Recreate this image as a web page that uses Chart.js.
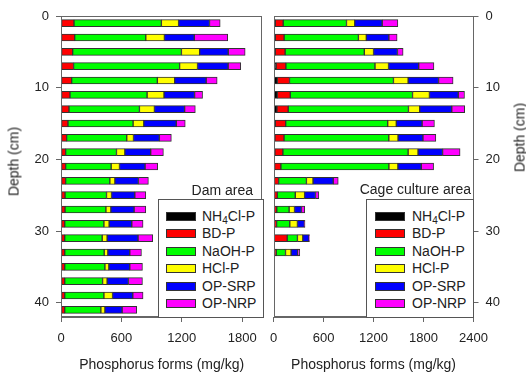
<!DOCTYPE html>
<html>
<head>
<meta charset="utf-8">
<script src="https://cdn.jsdelivr.net/npm/chart.js@4/dist/chart.umd.min.js"></script>
<style>
  body { margin: 0; width: 526px; height: 374px; background: #fff; position: relative; overflow: hidden;
         font-family: Arial, "Liberation Sans", sans-serif; color: #222; }
  canvas { position: absolute; top: 0; }
  .legend { position: absolute; background: #fff; border: 1px solid #555; box-sizing: border-box; }
  .row { position: absolute; left: 0; height: 17px; font-size: 14px; line-height: 17px; white-space: nowrap; }
  .sw { position: absolute; width: 30px; height: 9px; top: 4px; border: 1px solid #333; box-sizing: border-box; }
  .row .t { position: absolute; }
  .row sub { font-size: 10px; vertical-align: -3px; line-height: 0; }
  .area { position: absolute; font-size: 14px; line-height: 17px; white-space: nowrap; text-align: right; }
  .ylab { position: absolute; width: 100px; height: 17px; line-height: 17px; font-size: 14px;
          text-align: center; transform: rotate(-90deg); white-space: nowrap; }
</style>
</head>
<body>
<canvas id="damChart" width="266" height="374" style="left:0"></canvas>
<canvas id="cageChart" width="265" height="374" style="left:261px"></canvas>

<div class="ylab" style="left:-36px; top:153px">Depth (cm)</div>
<div class="ylab" style="left:470px; top:129px">Depth (cm)</div>

<div class="area" style="right:273px; top:182px">Dam area</div>
<div class="area" style="right:55px; top:181px">Cage culture area</div>

<div class="legend" id="damLegend" style="left:158px; top:199px; width:106px; height:119px"></div>
<div class="legend" id="cageLegend" style="left:366px; top:199px; width:108px; height:119px"></div>

<script>
// --- Data ---
const seriesNames = ['NH<sub>4</sub>Cl-P', 'BD-P', 'NaOH-P', 'HCl-P', 'OP-SRP', 'OP-NRP'];
const seriesColors = ['#000000', '#ff0000', '#00ff00', '#ffff00', '#0000ff', '#ff00ff'];

// Dam area, depth in cm (mg/kg)
const damDepth = [1, 3, 5, 7, 9, 11, 13, 15, 17, 19, 21, 23, 25, 27, 29, 31, 33, 35, 37, 39, 41];
const damNH4 = [6, 6, 6, 6, 6, 6, 6, 6, 6, 6, 6, 6, 6, 6, 6, 6, 6, 6, 6, 6, 6];
const damBD = [123, 130, 110, 119, 100, 83, 73, 63, 50, 40, 40, 40, 34, 34, 31, 31, 31, 31, 31, 31, 31];
const damNaOH = [868, 706, 1080, 1053, 851, 766, 700, 647, 597, 505, 452, 439, 412, 406, 389, 372, 392, 399, 376, 389, 359];
const damHCl = [171, 185, 181, 178, 172, 168, 149, 106, 67, 83, 83, 50, 50, 49, 52, 49, 36, 39, 45, 86, 40];
const damSRP = [307, 297, 284, 304, 313, 304, 300, 323, 257, 257, 254, 234, 231, 231, 225, 307, 218, 208, 212, 201, 171];
const damNRP = [106, 332, 168, 125, 109, 79, 106, 89, 119, 126, 125, 99, 109, 116, 112, 146, 116, 126, 139, 102, 145];

// Cage culture area
const cageDepth = [1, 3, 5, 7, 9, 11, 13, 15, 17, 19, 21, 23, 25, 27, 29, 31, 33];
const cageNH4 = [20, 20, 20, 30, 45, 45, 40, 20, 15, 15, 12, 10, 10, 10, 10, 8, 19];
const cageBD = [95, 106, 118, 117, 146, 155, 135, 125, 110, 96, 75, 50, 35, 28, 26, 155, 12];
const cageNaOH = [760, 892, 951, 1070, 1248, 1468, 1444, 1225, 1258, 1504, 1297, 334, 215, 148, 158, 123, 112];
const cageHCl = [99, 95, 111, 163, 176, 203, 135, 103, 111, 119, 108, 79, 112, 65, 92, 64, 67];
const cageSRP = [330, 271, 287, 362, 366, 346, 385, 310, 299, 295, 281, 243, 131, 83, 84, 75, 80];
const cageNRP = [188, 99, 68, 183, 174, 75, 155, 148, 155, 210, 148, 60, 40, 40, 7, 5, 24];

const depthTicks = [0, 10, 20, 30, 40];
const damTicks = [0, 600, 1200, 1800];
const cageTicks = [0, 600, 1200, 1800, 2400];
const FONT = 'Arial, "Liberation Sans", sans-serif';
const AXIS = '#666';

// draws the box round the plot area
const framePlugin = {
    id: 'frame',
    afterDraw(chart) {
        const a = chart.chartArea;
        const ctx = chart.ctx;
        ctx.save();
        ctx.strokeStyle = AXIS;
        ctx.lineWidth = 1;
        ctx.strokeRect(Math.round(a.left) + 0.5, Math.round(a.top) + 0.5,
            Math.round(a.right - a.left) - 1, Math.round(a.bottom - a.top) - 1);
        ctx.restore();
    }
};

function makeDatasets(depths, cols) {
    return cols.map((vals, i) => ({
        label: seriesNames[i],
        data: vals.map((v, j) => ({ x: v, y: depths[j] })),
        backgroundColor: seriesColors[i],
        borderColor: '#333',
        borderWidth: 1,
        borderSkipped: false,
        barThickness: 7,
        grouped: false
    }));
}

function makeChart(id, depths, cols, xMax, xTicks, yPos, padding, yWidth) {
    return new Chart(document.getElementById(id), {
        type: 'bar',
        data: { datasets: makeDatasets(depths, cols) },
        options: {
            indexAxis: 'y',
            responsive: false,
            animation: false,
            devicePixelRatio: 1,
            layout: { padding: padding },
            plugins: { legend: { display: false }, tooltip: { enabled: false } },
            scales: {
                x: {
                    type: 'linear',
                    stacked: true,
                    min: 0,
                    max: xMax,
                    grid: { display: true, drawOnChartArea: false, drawTicks: true, tickLength: 5, color: AXIS },
                    border: { display: true, color: AXIS },
                    afterBuildTicks: s => { s.ticks = xTicks.map(v => ({ value: v })); },
                    ticks: { padding: 9, color: '#222', font: { family: FONT, size: 13 }, callback: v => String(v) },
                    title: { display: true, text: 'Phosphorus forms (mg/kg)', color: '#222', padding: 0, font: { family: FONT, size: 14 } },
                    afterFit: s => { s.height = 57; }
                },
                y: {
                    type: 'linear',
                    position: yPos,
                    reverse: true,
                    offset: false,
                    min: 0,
                    max: 42,
                    grid: { display: true, offset: false, drawOnChartArea: false, drawTicks: true, tickLength: 5, color: AXIS },
                    border: { display: true, color: AXIS },
                    afterBuildTicks: s => { s.ticks = depthTicks.map(v => ({ value: v })); },
                    ticks: { padding: 7, color: '#222', font: { family: FONT, size: 13 }, callback: v => String(v) },
                    afterFit: s => { s.width = yWidth; }
                }
            }
        },
        plugins: [framePlugin]
    });
}

makeChart('damChart', damDepth, [damNH4, damBD, damNaOH, damHCl, damSRP, damNRP], 2000, damTicks, 'left',
    { top: 16, right: 3, left: 0, bottom: 0 }, 61);
makeChart('cageChart', cageDepth, [cageNH4, cageBD, cageNaOH, cageHCl, cageSRP, cageNRP], 2400, cageTicks, 'right',
    { top: 16, right: 0, left: 10, bottom: 0 }, 52.5);

// --- Legends ---
function buildLegend(id, swLeft, textLeft) {
    const box = document.getElementById(id);
    seriesNames.forEach((name, i) => {
        const row = document.createElement('div');
        row.className = 'row';
        row.style.top = (8 + i * 17.4) + 'px';
        row.innerHTML = `<div class="sw" style="left:${swLeft}px;background:${seriesColors[i]}"></div>
            <span class="t" style="left:${textLeft}px">${name}</span>`;
        box.appendChild(row);
    });
}
buildLegend('damLegend', 7, 43);
buildLegend('cageLegend', 8, 45);
</script>
</body>
</html>
